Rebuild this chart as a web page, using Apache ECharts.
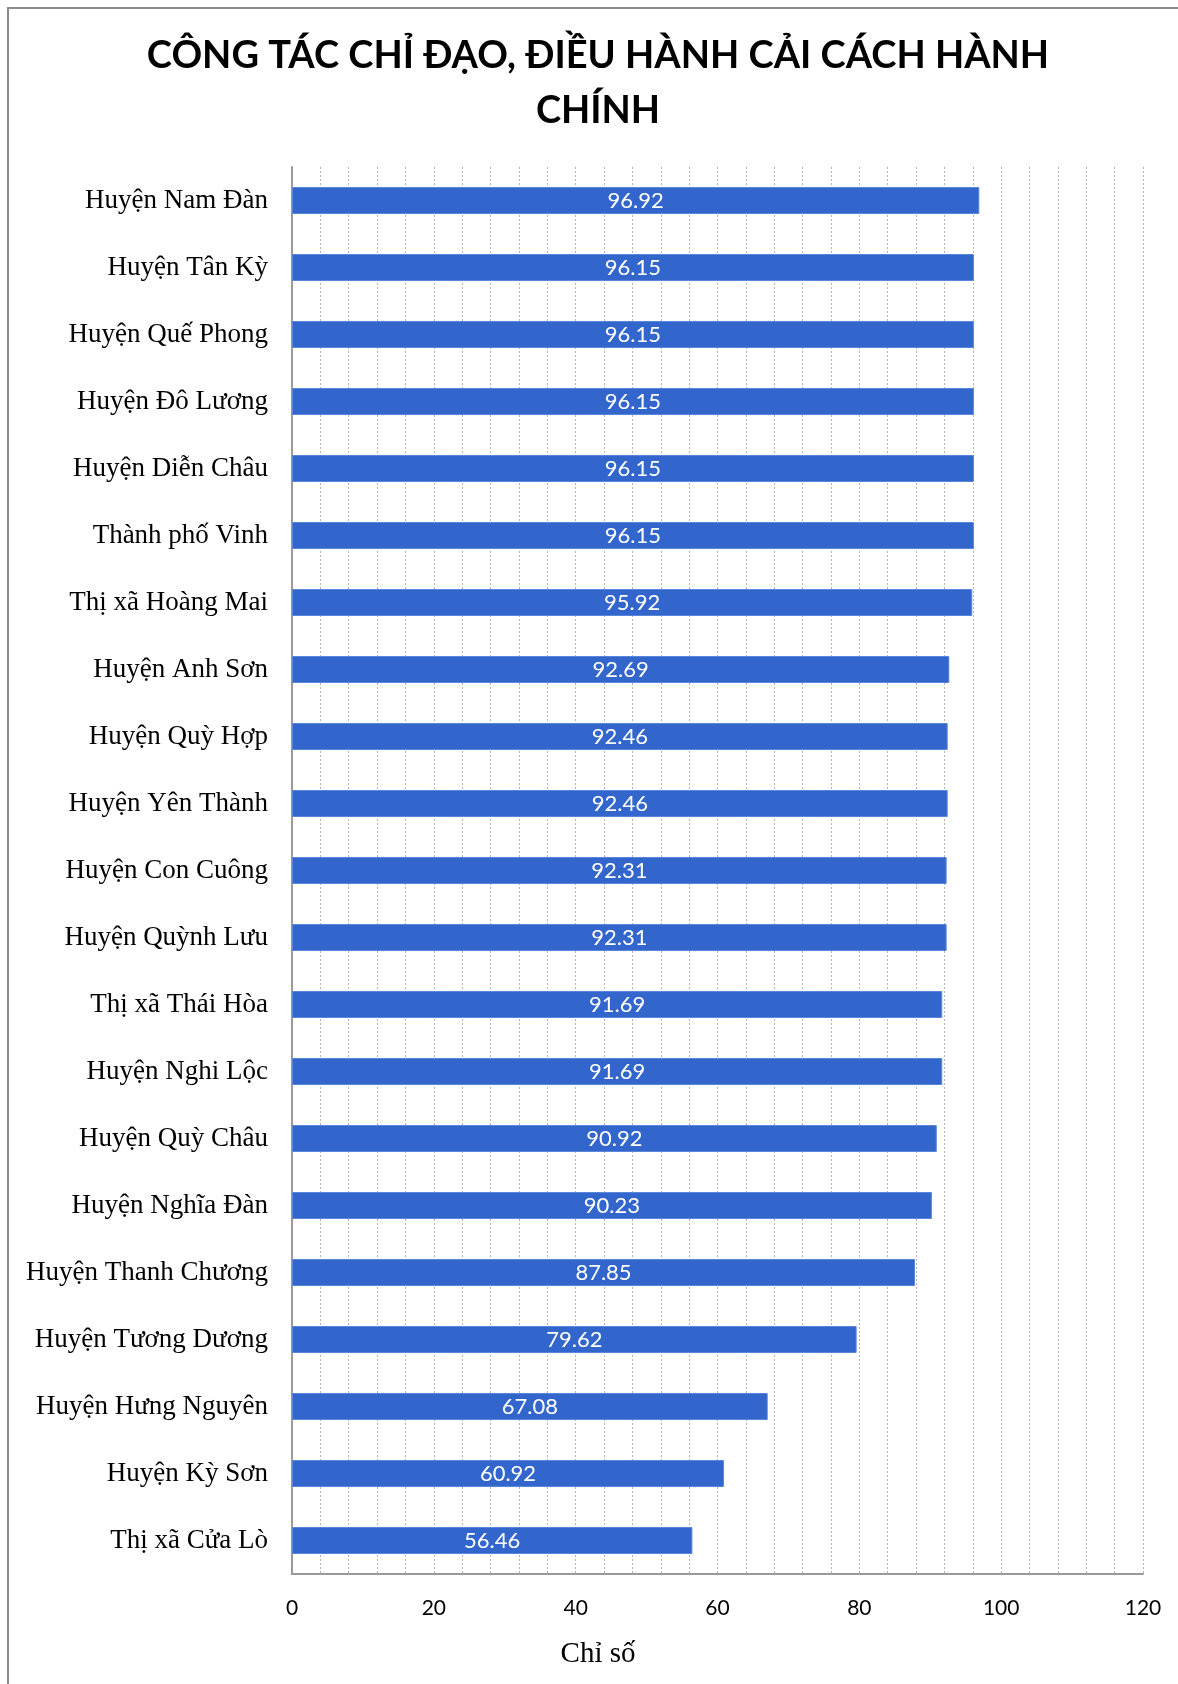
<!DOCTYPE html>
<html>
<head>
<meta charset="utf-8">
<style>
  html, body { margin: 0; padding: 0; background: #ffffff; }
  #chart { width: 1178px; height: 1684px; }
</style>
<script src="https://cdn.jsdelivr.net/npm/echarts@6/dist/echarts.min.js"></script>
</head>
<body>
<div id="chart"></div>
<script>
// Đơn vị cấp huyện, xếp từ cao xuống thấp
const units = [
  'Huyện Nam Đàn', 'Huyện Tân Kỳ', 'Huyện Quế Phong', 'Huyện Đô Lương',
  'Huyện Diễn Châu', 'Thành phố Vinh', 'Thị xã Hoàng Mai', 'Huyện Anh Sơn',
  'Huyện Quỳ Hợp', 'Huyện Yên Thành', 'Huyện Con Cuông', 'Huyện Quỳnh Lưu',
  'Thị xã Thái Hòa', 'Huyện Nghi Lộc', 'Huyện Quỳ Châu', 'Huyện Nghĩa Đàn',
  'Huyện Thanh Chương', 'Huyện Tương Dương', 'Huyện Hưng Nguyên',
  'Huyện Kỳ Sơn', 'Thị xã Cửa Lò'
];

// Chỉ số công tác chỉ đạo, điều hành CCHC
const scores = [
  96.92, 96.15, 96.15, 96.15, 96.15, 96.15, 95.92, 92.69, 92.46, 92.46,
  92.31, 92.31, 91.69, 91.69, 90.92, 90.23, 87.85, 79.62, 67.08, 60.92, 56.46
];

const chartTitle = 'CÔNG TÁC CHỈ ĐẠO, ĐIỀU HÀNH CẢI CÁCH HÀNH\nCHÍNH';
const axisName = 'Chỉ số';

const chart = echarts.init(document.getElementById('chart'), null, { renderer: 'canvas' });

const dotted = { color: '#b4b4b4', width: 1, type: [2, 2] };

// Tiêu đề và tên trục được căn giữa theo khung viền của biểu đồ
const frameCenterX = 598;

chart.setOption({
  backgroundColor: '#ffffff',
  animation: false,
  graphic: [
    {
      type: 'rect',
      shape: { x: 8, y: 8, width: 1300, height: 1800 },
      style: { fill: 'none', stroke: '#8c8c8c', lineWidth: 2 },
      silent: true,
      z: -1
    },
    {
      type: 'text',
      x: frameCenterX,
      y: 83,
      silent: true,
      style: {
        text: chartTitle,
        align: 'center',
        verticalAlign: 'middle',
        fontFamily: 'Lato',
        fontWeight: 'bold',
        fontSize: 38,
        lineHeight: 55,
        fill: '#000000'
      }
    },
    {
      type: 'text',
      x: frameCenterX,
      y: 1654,
      silent: true,
      style: {
        text: axisName,
        align: 'center',
        verticalAlign: 'middle',
        fontFamily: 'Liberation Serif',
        fontSize: 29,
        fill: '#000000'
      }
    }
  ],
  grid: {
    left: 292,
    right: 35,
    top: 167,
    bottom: 110,
    containLabel: false
  },
  xAxis: {
    type: 'value',
    min: 0,
    max: 120,
    interval: 20,
    axisLine: { show: true, lineStyle: { color: '#9a9a9a', width: 2 } },
    axisTick: { show: false },
    axisLabel: {
      margin: 24,
      fontFamily: 'Lato',
      fontSize: 21,
      color: '#000000'
    },
    splitLine: { show: true, lineStyle: dotted },
    minorTick: { show: false, splitNumber: 5 },
    minorSplitLine: { show: true, lineStyle: dotted }
  },
  yAxis: {
    type: 'category',
    data: units,
    inverse: true,
    axisLine: { show: true, lineStyle: { color: '#9a9a9a', width: 2 } },
    axisTick: { show: false },
    axisLabel: {
      margin: 24,
      fontFamily: 'Liberation Serif',
      fontSize: 27,
      color: '#000000'
    },
    splitLine: { show: false }
  },
  series: [{
    type: 'bar',
    data: scores,
    barWidth: 27,
    itemStyle: {
      color: '#3366cc',
      borderColor: '#5a86dc',
      borderWidth: 1
    },
    label: {
      show: true,
      position: 'inside',
      formatter: (p) => p.value.toFixed(2),
      fontFamily: 'Lato',
      fontSize: 22,
      color: '#ffffff'
    }
  }]
});
</script>
</body>
</html>
